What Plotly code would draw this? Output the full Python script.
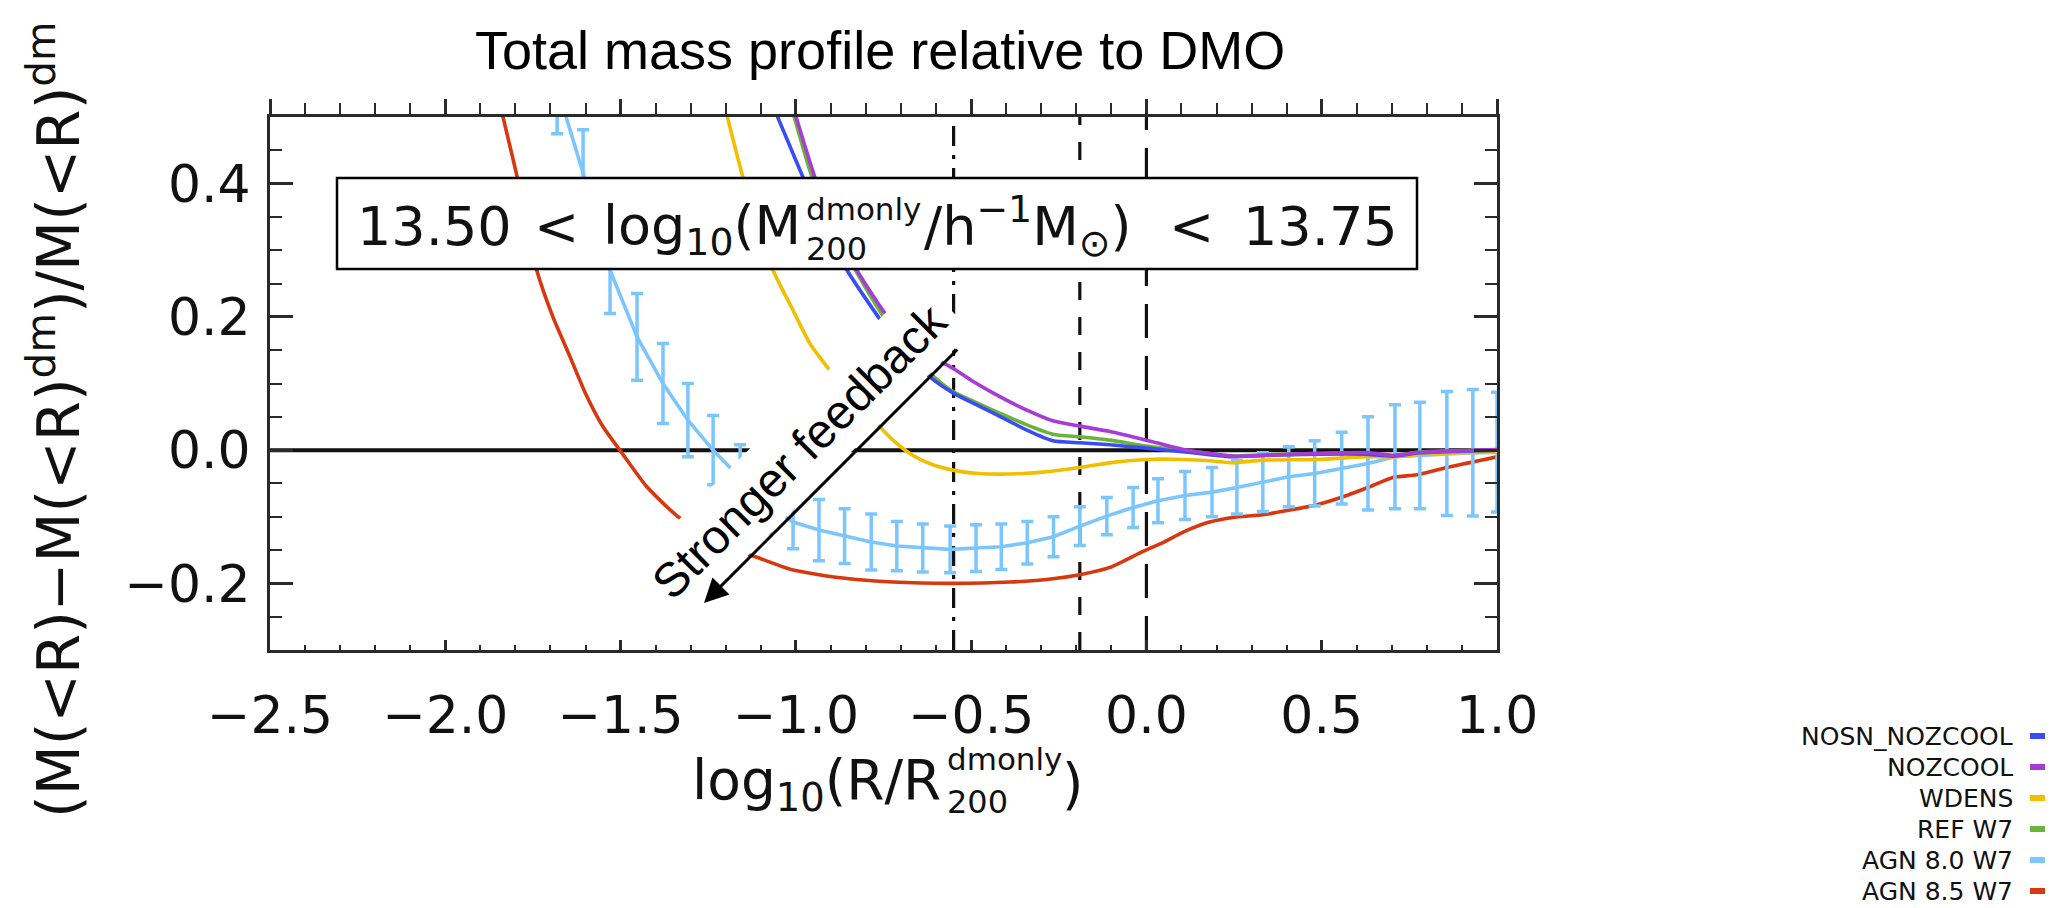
import plotly.graph_objects as go

# ---------------- data ----------------
X_RANGE = [-2.5, 1.0]
Y_RANGE = [-0.3, 0.5]
x_tickvals = [-2.5, -2.0, -1.5, -1.0, -0.5, 0.0, 0.5, 1.0]
x_ticktext = ["−2.5", "−2.0", "−1.5", "−1.0", "−0.5", "0.0", "0.5", "1.0"]
y_tickvals = [-0.2, 0.0, 0.2, 0.4]
y_ticktext = ["−0.2", "0.0", "0.2", "0.4"]

series_names = ["NOSN_NOZCOOL", "NOZCOOL", "WDENS", "REF W7", "AGN 8.0 W7", "AGN 8.5 W7"]
series_colors = ["#3a4cf5", "#a83bd6", "#f0c000", "#6cb33a", "#7cc6ff", "#d8380f"]

vline_x = [-0.55, -0.19, 0.0]
vline_dash = ["20px,9px,4px,9px", "18px,17px", "34px,18px"]

zero_x = [-2.5, 1.0]
zero_y = [0.0, 0.0]

nosn_x = [-1.06, -0.98, -0.92, -0.854, -0.769, -0.70, -0.618, -0.552, -0.50, -0.438, -0.341,
          -0.267, -0.19, -0.104, 0.0, 0.133, 0.247, 0.332, 0.486, 0.62, 0.703, 0.78, 1.0]
nosn_y = [0.51, 0.41, 0.335, 0.270, 0.203, 0.152, 0.110, 0.086, 0.072, 0.056, 0.030,
          0.014, 0.011, 0.008, 0.003, -0.004, -0.010, -0.008, -0.006, -0.006, -0.009, -0.004, 0.0]

nozcool_x = [-1.005, -0.946, -0.886, -0.826, -0.752, -0.68, -0.62, -0.58, -0.552, -0.50, -0.438,
             -0.341, -0.267, -0.19, -0.104, 0.0, 0.105, 0.247, 0.332, 0.486, 0.637, 0.703, 0.771, 1.0]
nozcool_y = [0.51, 0.41, 0.33, 0.270, 0.210, 0.165, 0.142, 0.131, 0.123, 0.105, 0.086,
             0.060, 0.044, 0.036, 0.028, 0.015, 0.001, -0.009, -0.008, -0.005, -0.004, -0.008, -0.004, 0.001]

wdens_x = [-1.20, -1.151, -1.10, -1.065, -1.008, -0.96, -0.911, -0.85, -0.80, -0.766, -0.723,
           -0.666, -0.609, -0.552, -0.48, -0.418, -0.35, -0.295, -0.19, -0.09, 0.0, 0.105, 0.18,
           0.247, 0.332, 0.486, 0.629, 0.703, 0.817, 1.0]
wdens_y = [0.51, 0.41, 0.33, 0.27, 0.21, 0.16, 0.125, 0.085, 0.055, 0.038, 0.015,
           -0.008, -0.022, -0.030, -0.035, -0.036, -0.035, -0.033, -0.026, -0.018, -0.014, -0.014, -0.016,
           -0.019, -0.015, -0.014, -0.010, -0.010, -0.005, -0.003]

ref_x = [-1.01, -0.954, -0.89, -0.83, -0.75, -0.68, -0.61, -0.552, -0.50, -0.438, -0.341,
         -0.267, -0.19, -0.104, 0.0, 0.133, 0.247, 0.332, 0.486, 0.62, 0.703, 0.78, 1.0]
ref_y = [0.51, 0.41, 0.33, 0.27, 0.20, 0.15, 0.112, 0.088, 0.075, 0.060, 0.038,
         0.024, 0.020, 0.015, 0.006, -0.002, -0.009, -0.007, -0.005, -0.005, -0.008, -0.003, 0.0]

agn80_x = [-1.681, -1.607, -1.530, -1.453, -1.379, -1.308, -1.236, -1.159, -1.083, -1.008,
           -0.934, -0.861, -0.785, -0.712, -0.638, -0.560, -0.486, -0.414, -0.340, -0.265,
           -0.190, -0.113, -0.038, 0.033, 0.110, 0.187, 0.258, 0.332, 0.406, 0.480,
           0.557, 0.632, 0.709, 0.780, 0.857, 0.931, 1.000]
agn80_y = [0.545, 0.416, 0.27, 0.17, 0.10, 0.045, 0.0, -0.042, -0.08, -0.108,
           -0.120, -0.129, -0.138, -0.144, -0.147, -0.149, -0.147, -0.145, -0.139, -0.130,
           -0.114, -0.099, -0.086, -0.076, -0.068, -0.063, -0.056, -0.048, -0.040, -0.035,
           -0.027, -0.020, -0.010, -0.008, -0.005, -0.004, -0.003]
agn80_err = [0.07, 0.065, 0.065, 0.065, 0.06, 0.055, 0.052, 0.05, 0.045, 0.04,
             0.046, 0.041, 0.042, 0.037, 0.036, 0.035, 0.035, 0.034, 0.032, 0.030,
             0.029, 0.028, 0.030, 0.033, 0.036, 0.037, 0.040, 0.044, 0.045, 0.049,
             0.054, 0.070, 0.078, 0.080, 0.093, 0.095, 0.090]

agn85_x = [-1.84, -1.795, -1.739, -1.693, -1.644, -1.60, -1.55, -1.502, -1.425, -1.336, -1.25,
           -1.17, -1.10, -1.008, -0.866, -0.723, -0.552, -0.389, -0.267, -0.19, -0.104, -0.01,
           0.05, 0.105, 0.18, 0.247, 0.332, 0.41, 0.486, 0.561, 0.637, 0.703, 0.771, 0.866, 1.0]
agn85_y = [0.51, 0.41, 0.27, 0.20, 0.14, 0.085, 0.035, 0.0, -0.055, -0.100, -0.128,
           -0.150, -0.163, -0.180, -0.192, -0.198, -0.200, -0.198, -0.193, -0.187, -0.176, -0.152,
           -0.138, -0.123, -0.108, -0.101, -0.097, -0.090, -0.082, -0.070, -0.055, -0.041, -0.037, -0.025, -0.010]

# ---------------- geometry helpers (page pixels -> paper) ----------------
PL, PR, PT, PB = 270, 1497, 117, 650
W, H = 2067, 908


def px(X):
    return (X - PL) / (PR - PL)


def py(Y):
    return (PB - Y) / (PB - PT)


AX_FONT = "DejaVu Sans"
TXT_FONT = "Liberation Sans"
LW = 3.6

fig = go.Figure()

# vertical reference lines
for vx, vd in zip(vline_x, vline_dash):
    fig.add_trace(go.Scatter(x=[vx, vx], y=Y_RANGE, mode="lines",
                             line=dict(color="#111111", width=3.2, dash=vd),
                             showlegend=False, hoverinfo="skip"))
# zero line
fig.add_trace(go.Scatter(x=zero_x, y=zero_y, mode="lines",
                         line=dict(color="#111111", width=4),
                         showlegend=False, hoverinfo="skip"))

SPL = dict(shape="spline", smoothing=0.6)
fig.add_trace(go.Scatter(x=agn85_x, y=agn85_y, mode="lines", name=series_names[5],
                         line=dict(color=series_colors[5], width=LW, **SPL), showlegend=False))
fig.add_trace(go.Scatter(x=agn80_x, y=agn80_y, mode="lines", name=series_names[4],
                         line=dict(color=series_colors[4], width=LW),
                         error_y=dict(type="data", array=agn80_err, visible=True,
                                      color=series_colors[4], thickness=3.5, width=6),
                         showlegend=False))
fig.add_trace(go.Scatter(x=wdens_x, y=wdens_y, mode="lines", name=series_names[2],
                         line=dict(color=series_colors[2], width=LW, **SPL), showlegend=False))
fig.add_trace(go.Scatter(x=ref_x, y=ref_y, mode="lines", name=series_names[3],
                         line=dict(color=series_colors[3], width=LW, **SPL), showlegend=False))
fig.add_trace(go.Scatter(x=nosn_x, y=nosn_y, mode="lines", name=series_names[0],
                         line=dict(color=series_colors[0], width=LW, **SPL), showlegend=False))
fig.add_trace(go.Scatter(x=nozcool_x, y=nozcool_y, mode="lines", name=series_names[1],
                         line=dict(color=series_colors[1], width=LW, **SPL), showlegend=False))
# empty trace to activate the mirrored top/right axes
fig.add_trace(go.Scatter(x=[None], y=[None], xaxis="x2", yaxis="y2",
                         showlegend=False, hoverinfo="skip"))

AXC = "#2a2a2a"
fig.update_layout(
    width=W, height=H, autosize=False,
    margin=dict(l=PL, r=W - PR, t=PT, b=H - PB, pad=0),
    paper_bgcolor="white", plot_bgcolor="white",
    showlegend=False,
    xaxis=dict(range=X_RANGE, showgrid=False, zeroline=False,
               tickmode="array", tickvals=x_tickvals, ticktext=x_ticktext,
               ticks="inside", ticklen=10, tickwidth=3, tickcolor=AXC,
               minor=dict(tick0=-2.5, dtick=0.1, ticks="inside", ticklen=5, tickwidth=2, tickcolor=AXC),
               showline=True, linewidth=3, linecolor=AXC,
               tickfont=dict(family=AX_FONT, size=52, color="#111111"),
               ticklabelstandoff=18),
    yaxis=dict(range=Y_RANGE, showgrid=False, zeroline=False,
               tickmode="array", tickvals=y_tickvals, ticktext=y_ticktext,
               ticks="inside", ticklen=23, tickwidth=3, tickcolor=AXC,
               minor=dict(tick0=-0.3, dtick=0.05, ticks="inside", ticklen=12, tickwidth=2, tickcolor=AXC),
               showline=True, linewidth=3, linecolor=AXC,
               tickfont=dict(family=AX_FONT, size=52, color="#111111"),
               ticklabelstandoff=6),
    xaxis2=dict(range=X_RANGE, overlaying="x", side="top", anchor="y2", showgrid=False, zeroline=False,
                tickmode="array", tickvals=x_tickvals, showticklabels=False,
                ticks="outside", ticklen=15, tickwidth=3, tickcolor=AXC,
                minor=dict(tick0=-2.5, dtick=0.1, ticks="outside", ticklen=11, tickwidth=2, tickcolor=AXC),
                showline=True, linewidth=3, linecolor=AXC),
    yaxis2=dict(range=Y_RANGE, overlaying="y", side="right", anchor="x2", showgrid=False, zeroline=False,
                tickmode="array", tickvals=y_tickvals, showticklabels=False,
                ticks="inside", ticklen=23, tickwidth=3, tickcolor=AXC,
                minor=dict(tick0=-0.3, dtick=0.05, ticks="inside", ticklen=12, tickwidth=2, tickcolor=AXC),
                showline=True, linewidth=3, linecolor=AXC),
)

shapes = []
ann = []

# mass-bin label box
shapes.append(dict(type="rect", xref="paper", yref="paper", layer="above",
                   x0=px(337), x1=px(1417), y0=py(269), y1=py(178),
                   fillcolor="white", line=dict(color="black", width=2.5)))


def txt(text, X, Y, size, xanchor="left", family=AX_FONT, color="#111111", **kw):
    d = dict(text=text, xref="paper", yref="paper", x=px(X), y=py(Y),
             xanchor=xanchor, yanchor="middle", showarrow=False,
             font=dict(family=family, size=size, color=color))
    d.update(kw)
    ann.append(d)


BOX_FS = 54
txt("13.50", 355, 226, BOX_FS)
txt("&lt;", 556, 226, BOX_FS, xanchor="center")
txt("log<sub>10</sub>(M", 803, 229, BOX_FS, xanchor="right")
txt("dmonly", 804, 209, 31)
txt("200", 804, 249, 32)
txt("/h<sup>−1</sup>M<sub>⊙</sub>)", 922, 226, BOX_FS)
txt("&lt;", 1191, 226, BOX_FS, xanchor="center")
txt("13.75", 1400, 226, BOX_FS, xanchor="right")

# x-axis title
txt("log<sub>10</sub>(R/R", 943, 784, 55, xanchor="right")
txt("dmonly", 945, 759, 31)
txt("200", 945, 802, 32)
txt(")", 1060, 784, 55)

# y-axis title
txt("(M(&lt;R)−M(&lt;R)<sup>dm</sup>)/M(&lt;R)<sup>dm</sup>", 55, 420, 58,
    xanchor="center", textangle=-90)

# chart title
txt("Total mass profile relative to DMO", 880, 50, 54, xanchor="center", family=TXT_FONT, color="black")

# "Stronger feedback" label and arrow
ann.append(dict(text="Stronger feedback", xref="x", yref="y", x=-0.99, y=-0.002,
                showarrow=False, textangle=-45, bgcolor="white", borderpad=10,
                font=dict(family=TXT_FONT, size=48, color="black"),
                xanchor="center", yanchor="middle"))
ann.append(dict(text="", xref="x", yref="y", x=-1.262, y=-0.2295,
                axref="x", ayref="y", ax=-0.535, ay=0.1533, showarrow=True,
                arrowhead=2, arrowsize=1.6, arrowwidth=3, arrowcolor="black"))

# legend (text right-aligned, swatch on the right)
leg_rows = [736, 767, 798, 829, 860, 891]
for name, col, ry in zip(series_names, series_colors, leg_rows):
    txt(name, 2015, ry, 25, xanchor="right")
    shapes.append(dict(type="line", xref="paper", yref="paper",
                       x0=px(2030), x1=px(2045), y0=py(ry), y1=py(ry),
                       line=dict(color=col, width=6)))

fig.update_layout(shapes=shapes, annotations=ann)
fig.write_html("out.html")
